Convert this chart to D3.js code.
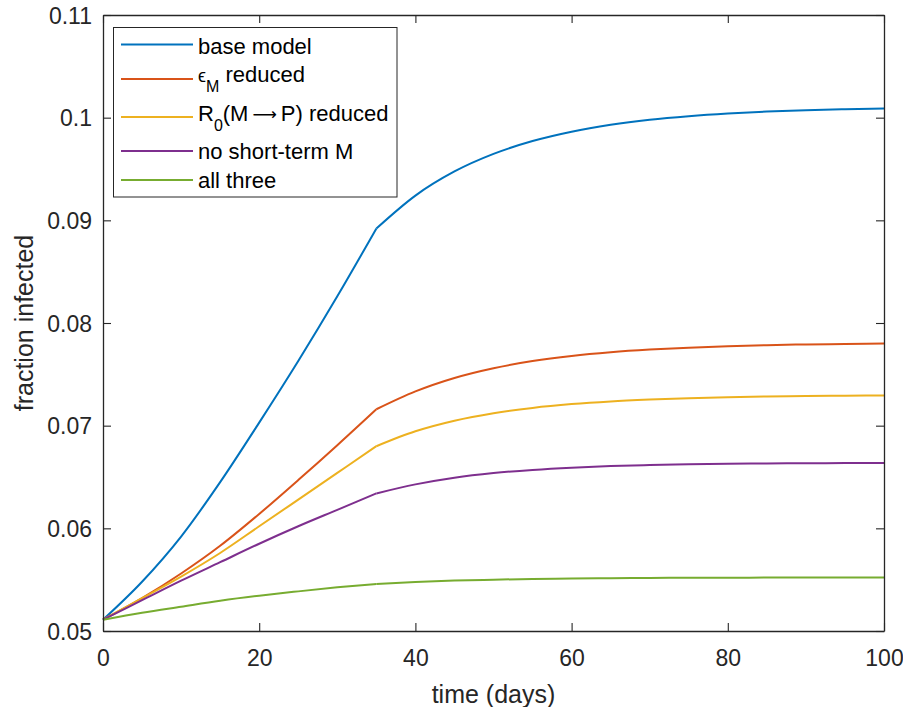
<!DOCTYPE html>
<html>
<head>
<meta charset="utf-8">
<script src="https://cdn.jsdelivr.net/npm/d3@7"></script>
<style>
  html, body { margin: 0; padding: 0; background: #fff; }
  svg { display: block; font-family: "Liberation Sans", Arial, Helvetica, sans-serif; }
</style>
</head>
<body>
<svg id="chart" width="903" height="707"></svg>
<script>
// ---- data ----
const days = [0,5,10,15,20,25,30,35,40,45,50,55,60,65,70,75,80,85,90,95,100];
const kinkIndex = 7; // day 35
const baseModel = [0.0511,0.0548,0.0592,0.0645,0.0703,0.0763,0.0826,0.0892,0.09241,0.09476,0.09647,0.09772,0.09863,0.0993,0.09979,0.10014,0.1004,0.10059,0.10073,0.10083,0.1009];
const epsReduced = [0.0511,0.0532,0.0556,0.0583,0.0614,0.0647,0.0681,0.0716,0.07334,0.07465,0.0756,0.07629,0.07679,0.07715,0.07741,0.0776,0.07774,0.07784,0.07791,0.07796,0.0780];
const r0Reduced = [0.0511,0.0532,0.0553,0.0576,0.0602,0.0628,0.0654,0.0680,0.06945,0.07048,0.07121,0.07173,0.0721,0.07236,0.07254,0.07268,0.07277,0.07284,0.07288,0.07292,0.07294];
const noShortTerm = [0.0511,0.0530,0.0549,0.0567,0.0585,0.0602,0.0618,0.0634,0.06428,0.06493,0.06538,0.06569,0.06591,0.06606,0.06616,0.06623,0.06629,0.06632,0.06634,0.06636,0.06637];
const allThree = [0.0511,0.05178,0.05237,0.05295,0.05344,0.05386,0.05425,0.05458,0.05477,0.05491,0.0550,0.05507,0.05511,0.05515,0.05517,0.05518,0.05519,0.0552,0.0552,0.05521,0.05521];
const xTicks = [0,20,40,60,80,100];
const yTicks = [0.05,0.06,0.07,0.08,0.09,0.10,0.11];
const yTickLabels = ["0.05","0.06","0.07","0.08","0.09","0.1","0.11"];
const xLabel = "time (days)";
const yLabel = "fraction infected";
const colors = ["#0072BD","#D95319","#EDB120","#7E2F8E","#77AC30"];

const seriesList = [baseModel, epsReduced, r0Reduced, noShortTerm, allThree];

// ---- layout ----
const L = 103, R = 884, T = 15, B = 631;
const svg = d3.select("#chart");
const x = d3.scaleLinear().domain([0,100]).range([L,R]);
const y = d3.scaleLinear().domain([0.05,0.11]).range([B,T]);
const axisColor = "#262626";

// lines
const line = d3.line().x(d => x(d[0])).y(d => y(d[1])).curve(d3.curveMonotoneX);
const g = svg.append("g");
seriesList.forEach((vals, si) => {
  const pts = days.map((d,i) => [d, vals[i]]);
  [pts.slice(0, kinkIndex+1), pts.slice(kinkIndex)].forEach(seg => {
    g.append("path").attr("d", line(seg))
      .attr("fill","none").attr("stroke", colors[si])
      .attr("stroke-width", 2).attr("stroke-linejoin","round");
  });
});

// axes (MATLAB-like box with inward ticks on all sides)
const tickLen = 8;
const fmtY = d => yTickLabels[yTicks.indexOf(d)];
const axB = d3.axisBottom(x).tickValues(xTicks).tickSizeInner(-tickLen).tickSizeOuter(0).tickPadding(12);
const axT = d3.axisTop(x).tickValues(xTicks).tickSizeInner(-tickLen).tickSizeOuter(0).tickFormat("");
const axL = d3.axisLeft(y).tickValues(yTicks).tickSizeInner(-tickLen).tickSizeOuter(0).tickPadding(11).tickFormat(fmtY);
const axR = d3.axisRight(y).tickValues(yTicks).tickSizeInner(-tickLen).tickSizeOuter(0).tickFormat("");

function style(sel){
  sel.selectAll(".domain").attr("stroke", axisColor).attr("stroke-width", 1.3);
  sel.selectAll(".tick line").attr("stroke", axisColor).attr("stroke-width", 1.1);
  sel.selectAll(".tick text").attr("fill", axisColor).attr("font-size", 23)
     .attr("font-family", "'Liberation Sans', Arial, sans-serif");
}
svg.append("g").attr("transform",`translate(0,${B})`).call(axB).call(style)
  .selectAll(".tick text").attr("dy", null).attr("y", 35);
svg.append("g").attr("transform",`translate(0,${T})`).call(axT).call(style);
svg.append("g").attr("transform",`translate(${L},0)`).call(axL).call(style)
  .selectAll(".tick text").attr("dy","0.35em");
svg.append("g").attr("transform",`translate(${R},0)`).call(axR).call(style);

// axis labels
svg.append("text").attr("x", (L+R)/2).attr("y", 703).attr("text-anchor","middle")
  .attr("font-size", 25).attr("fill", axisColor).text(xLabel);
svg.append("text").attr("transform", `translate(33,${(T+B)/2}) rotate(-90)`)
  .attr("text-anchor","middle").attr("font-size", 25).attr("fill", axisColor).text(yLabel);

// legend
const lg = svg.append("g");
lg.append("rect").attr("x",113.5).attr("y",27.5).attr("width",283.5).attr("height",169.5)
  .attr("fill","#fff").attr("stroke",axisColor).attr("stroke-width",1);
const rows = [
  {ly:44.5, by:54},
  {ly:79, by:82},
  {ly:117, by:121},
  {ly:151, by:159},
  {ly:180, by:188}
];
rows.forEach((r,i) => {
  lg.append("line").attr("x1",121).attr("x2",193).attr("y1",r.ly).attr("y2",r.ly)
    .attr("stroke",colors[i]).attr("stroke-width",2);
});
const tx = 198, fs = 22;
function addText(by){ return lg.append("text").attr("x",tx).attr("y",by).attr("font-size",fs).attr("fill","#000"); }
addText(rows[0].by).text("base model");
{
  const t = addText(rows[1].by);
  t.append("tspan").attr("font-size",18).text("ϵ");
  t.append("tspan").attr("font-size",16).attr("dy",10).text("M");
  t.append("tspan").attr("dy",-10).text(" reduced");
}
{
  const t = addText(rows[2].by);
  t.append("tspan").text("R");
  t.append("tspan").attr("font-size",16).attr("dy",10).text("0");
  t.append("tspan").attr("dy",-10).text("(M");
  t.append("tspan").attr("font-family","'DejaVu Sans', sans-serif").attr("font-size",17).attr("dx",4).attr("dy",-1).text("⟶");
  t.append("tspan").attr("dx",4).attr("dy",1).text("P) reduced");
}
addText(rows[3].by).text("no short-term M");
addText(rows[4].by).text("all three");
</script>
</body>
</html>
